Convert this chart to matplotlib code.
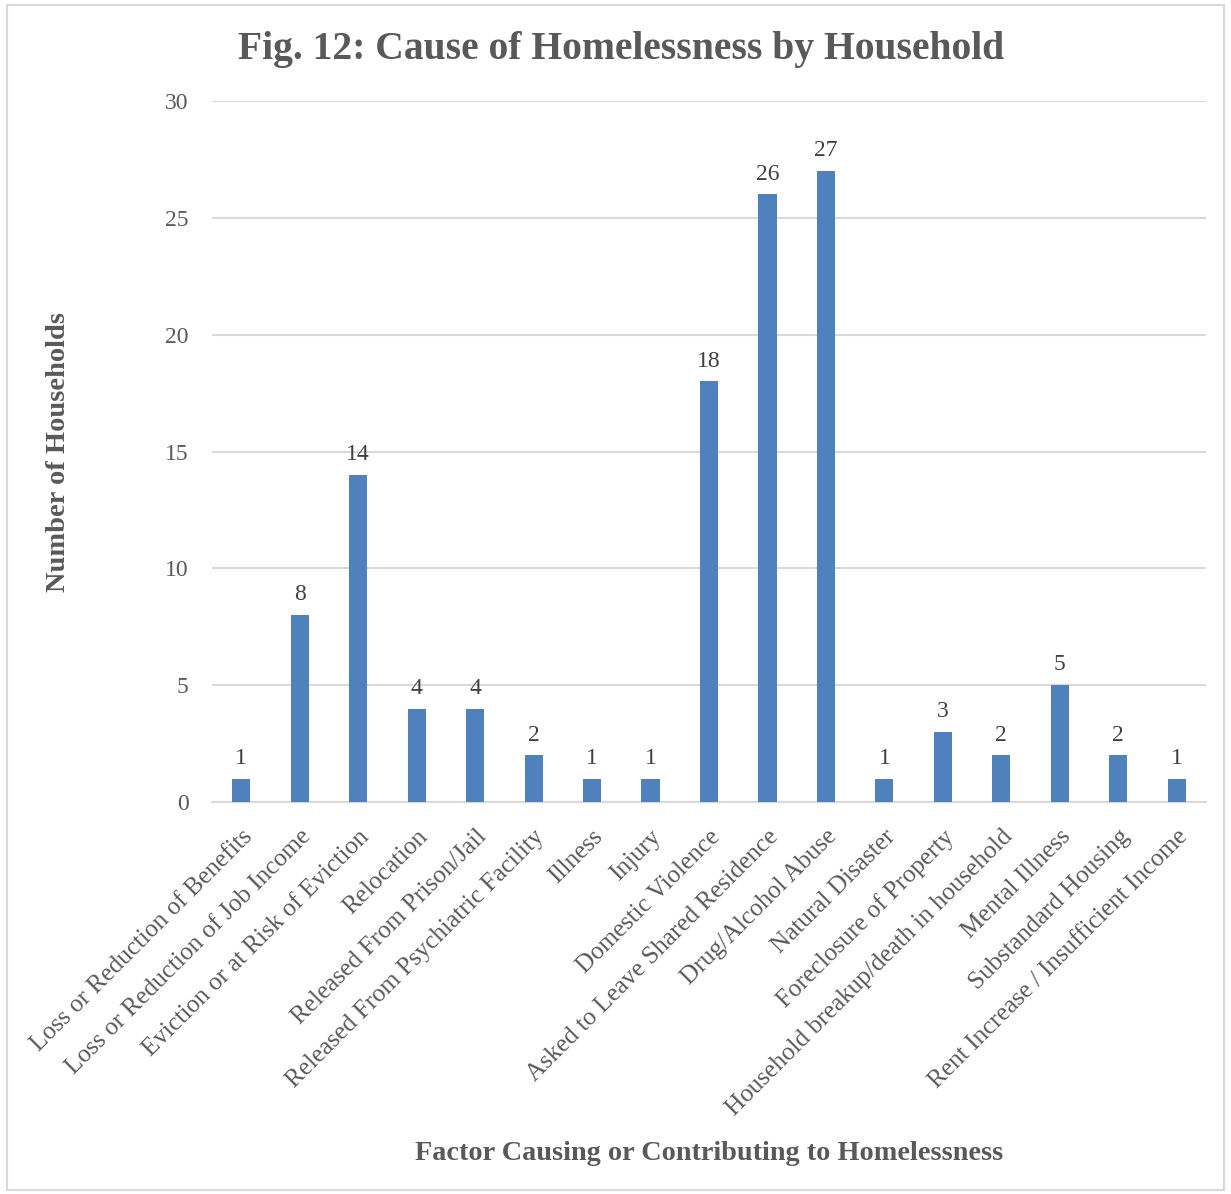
import matplotlib
matplotlib.use("Agg")
import matplotlib.pyplot as plt
from matplotlib.patches import Rectangle

categories = [
    "Loss or Reduction of Benefits",
    "Loss or Reduction of Job Income",
    "Eviction or at Risk of Eviction",
    "Relocation",
    "Released From Prison/Jail",
    "Released From Psychiatric Facility",
    "Illness",
    "Injury",
    "Domestic Violence",
    "Asked to Leave Shared Residence",
    "Drug/Alcohol Abuse",
    "Natural Disaster",
    "Foreclosure of Property",
    "Household breakup/death in household",
    "Mental Illness",
    "Substandard Housing",
    "Rent Increase / Insufficient Income",
]
values = [1, 8, 14, 4, 4, 2, 1, 1, 18, 26, 27, 1, 3, 2, 5, 2, 1]
yticks = [0, 5, 10, 15, 20, 25, 30]

FONT = ["Liberation Serif", "DejaVu Serif"]
TXT = "#595959"
BAR = "#4F81BD"
GRID = "#D9D9D9"

W, H = 1231, 1194
fig = plt.figure(figsize=(W / 100, H / 100), dpi=100)
fig.patches.append(Rectangle((7 / W, 1 - 1190 / H), (1224 - 7) / W, (1190 - 5) / H,
                             transform=fig.transFigure, fill=False,
                             edgecolor=GRID, linewidth=1.5))

ax = fig.add_axes([212 / W, 1 - 802 / H, (1206 - 212) / W, (802 - 101) / H])
x = list(range(len(categories)))
bars = ax.bar(x, values, width=0.31, color=BAR, zorder=3)
ax.set_xlim(-0.5, len(categories) - 0.5)
ax.set_ylim(0, 30)
ax.set_yticks(yticks)
ax.set_yticklabels([str(v) for v in yticks], fontfamily=FONT, fontsize=17, color=TXT)
ax.tick_params(axis="y", length=0, pad=17)
ax.tick_params(axis="x", length=0, pad=17)
ax.set_xticks(x)
ax.set_xticklabels(categories, rotation=45, ha="right", rotation_mode="anchor",
                   fontfamily=FONT, fontsize=18.2, color=TXT)
ax.grid(axis="y", color=GRID, linewidth=1.5, zorder=0)
for s in ["top", "right", "left"]:
    ax.spines[s].set_visible(False)
ax.spines["bottom"].set_color(GRID)
ax.spines["bottom"].set_linewidth(1.5)

for xi, v in zip(x, values):
    ax.annotate(str(v), (xi, v), xytext=(0, 7), textcoords="offset points",
                ha="center", va="bottom", fontfamily=FONT, fontsize=17, color="#404040")

fig.text(621 / W, 1 - 50 / H, "Fig. 12: Cause of Homelessness by Household",
         ha="center", va="center", fontfamily=FONT, fontsize=28.5, fontweight="bold", color=TXT)
fig.text(59 / W, 1 - 452 / H, "Number of Households", rotation=90,
         ha="center", va="center", fontfamily=FONT, fontsize=20.5, fontweight="bold", color=TXT)
fig.text(709 / W, 1 - 1154 / H, "Factor Causing or Contributing to Homelessness",
         ha="center", va="center", fontfamily=FONT, fontsize=20.3, fontweight="bold", color=TXT)

fig.savefig("out.png", dpi=100)
